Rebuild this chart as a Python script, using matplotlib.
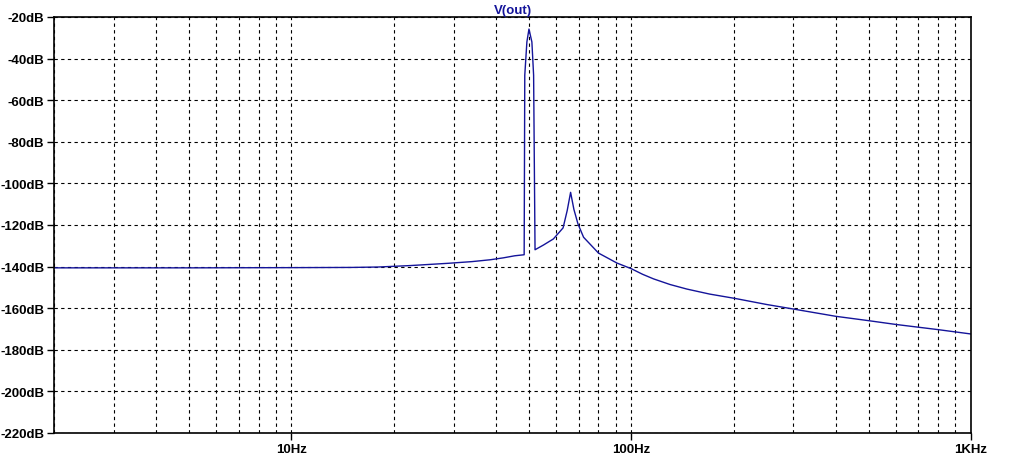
import matplotlib
matplotlib.use('Agg')
import matplotlib.pyplot as plt
from matplotlib.ticker import FixedLocator, NullFormatter

# frequency response
freq_hz = [2, 5, 10, 15, 18, 22.4, 29, 34, 38.5, 42, 45.4, 48.4,
           48.6, 49.3, 50.0, 51.0, 51.6, 52.1,
           55.2, 59.0, 63.0, 64.8, 66.3, 67.8, 69.7, 72.4, 80.1, 90.8,
           100, 108, 116.3, 130, 145.8, 170, 202, 250, 300, 400, 500, 600, 800, 1000]
vout_db = [-140.6, -140.6, -140.5, -140.4, -140.2, -139.5, -138.4, -137.6, -136.7, -135.8, -134.8, -134.3,
           -48.0, -32.0, -25.8, -32.0, -48.0, -131.9,
           -129.6, -126.7, -121.4, -113.0, -104.3, -112.5, -119.5, -125.9, -133.5, -138.3,
           -141.0, -143.7, -145.9, -148.6, -150.8, -153.2, -155.3, -158.2, -160.4, -163.9, -166.0, -167.8, -170.3, -172.4]

y_ticks = list(range(-220, -19, 20))
x_major = [10, 100, 1000]
x_labels = ['10Hz', '100Hz', '1KHz']
x_minor = [f * d for d in (1, 10, 100) for f in range(2, 10) if f * d < 1000]

trace_col = '#14149a'

fig = plt.figure(figsize=(10.25, 4.6), dpi=100)
ax = fig.add_axes([54 / 1025, 26 / 460, (971 - 54) / 1025, (434 - 18) / 460])

ax.plot(freq_hz, vout_db, color=trace_col, lw=1.0)
ax.set_xscale('log')
ax.set_xlim(2, 1000)
ax.set_ylim(-220, -20)

ax.xaxis.set_major_locator(FixedLocator(x_major))
ax.xaxis.set_minor_locator(FixedLocator(x_minor))
ax.xaxis.set_minor_formatter(NullFormatter())
ax.set_xticklabels(x_labels)
ax.set_yticks(y_ticks)
ax.set_yticklabels([f'{v}dB' for v in y_ticks])

ax.grid(True, which='both', color='black', lw=0.8, linestyle=(0, (3, 3)))
ax.tick_params(which='major', direction='out', length=5, width=1, colors='black', labelsize=9.5, pad=2)
ax.tick_params(which='minor', direction='out', length=0)
for lbl in ax.get_xticklabels() + ax.get_yticklabels():
    lbl.set_fontweight('bold')
    lbl.set_family('Liberation Sans')
for sp in ax.spines.values():
    sp.set_color('black')
    sp.set_linewidth(1.2)

ax.set_title('V(out)', color=trace_col, fontsize=9.5, fontweight='bold', family='Liberation Sans', pad=3)

fig.savefig('out.png', dpi=100)
